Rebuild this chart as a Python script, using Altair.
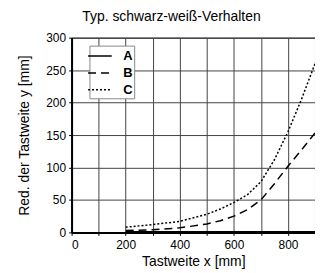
import altair as alt
import pandas as pd

series_names = ["A", "B", "C"]
x_vals = [200, 300, 400, 500, 550, 600, 650, 700, 750, 800, 850, 900]
a_vals = [1, 1, 1, 1, 1, 1, 1, 1, 1, 1, 1, 1]
b_vals = [3, 4, 7, 13, 18, 25, 35, 50, 75, 102, 127, 153]
c_vals = [8, 12, 17, 28, 36, 46, 58, 78, 112, 155, 205, 260]

rows = []
for name, vals in zip(series_names, [a_vals, b_vals, c_vals]):
    for x, y in zip(x_vals, vals):
        rows.append({"serie": name, "x": x, "y": y})
df = pd.DataFrame(rows)

NARROW = "Liberation Sans Narrow, Liberation Sans, Arial"
REG = "Liberation Sans, Arial"

chart = alt.Chart(df).mark_line(color="black", strokeWidth=1.5, clip=True).encode(
    x=alt.X("x:Q", scale=alt.Scale(domain=[0, 900], nice=False),
            axis=alt.Axis(title="Tastweite x [mm]", values=list(range(0, 1000, 100)),
                          labelExpr="datum.value % 200 == 0 ? datum.label : ''",
                          format="d")),
    y=alt.Y("y:Q", scale=alt.Scale(domain=[0, 300], nice=False),
            axis=alt.Axis(title="Red. der Tastweite y [mm]", values=list(range(0, 350, 50)))),
    strokeDash=alt.StrokeDash("serie:N",
        scale=alt.Scale(domain=series_names, range=[[1, 0], [8, 5], [2, 2]]),
        legend=alt.Legend(title=None, orient="none", legendX=18, legendY=8,
                          symbolType="M-1.4,0H1.4", symbolSize=289, symbolStrokeWidth=1.5,
                          symbolStrokeColor="black",
                          labelFontWeight="bold", labelFontSize=13, labelFont=REG,
                          labelColor="black",
                          strokeColor="#888", fillColor="white", padding=1,
                          rowPadding=0, labelOffset=14)),
    order="x:Q",
).properties(
    width=245, height=196,
    title=alt.TitleParams("Typ. schwarz-weiß-Verhalten", font=NARROW, fontSize=14,
                          fontWeight="normal", color="black", offset=8, dx=-22),
    autosize=alt.AutoSizeParams(type="none"),
    padding={"left": 64, "top": 29, "right": 0, "bottom": 40},
).configure_view(stroke="black", strokeWidth=1).configure_axis(
    grid=True, gridColor="#444", gridWidth=1, gridOpacity=1,
    domainColor="black", domainWidth=2,
    tickColor="black", tickSize=3,
    labelFont=REG, labelFontSize=12, labelColor="black",
    titleFont=NARROW, titleFontSize=14, titleFontWeight="normal", titleColor="black",
).configure_axisX(labelPadding=4, titlePadding=4).configure_axisY(labelPadding=3, titlePadding=14)

chart.save("out.html", embed_options={"renderer": "svg", "actions": False})
